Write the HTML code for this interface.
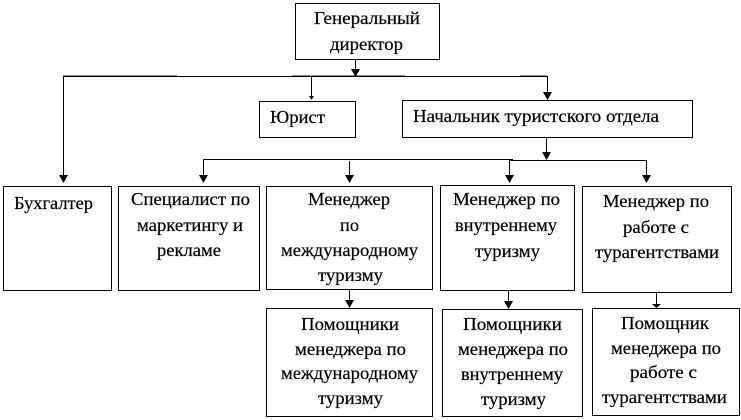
<!DOCTYPE html>
<html><head><meta charset="utf-8"><style>
html,body{margin:0;padding:0;background:#fff}
svg{display:block}
text{font-family:"Liberation Serif","Noto Serif CJK SC",serif;font-size:18px;fill:#000;stroke:#000;stroke-width:.22px}
rect{fill:#fff;stroke:#000;stroke-width:1}
line{stroke:#000;stroke-width:1}
line.g{stroke:#8a8a8a}
polygon{fill:#000}
</style></head><body>
<svg xmlns="http://www.w3.org/2000/svg" width="741" height="420" viewBox="0 0 741 420" shape-rendering="crispEdges">
<g>
<line x1="63" y1="76.5" x2="547" y2="76.5"/>
<line class="g" x1="63" y1="75.5" x2="120" y2="75.5"/>
<line class="g" x1="120" y1="75.5" x2="177" y2="75.5"/>
<line class="g" x1="292" y1="75.5" x2="405" y2="75.5"/>
<line class="g" x1="520" y1="75.5" x2="547" y2="75.5"/>
<line x1="355.5" y1="59" x2="355.5" y2="70"/>
<polygon points="351,69 360,69 355.5,77" shape-rendering="auto"/>
<line x1="63.5" y1="76" x2="63.5" y2="176"/>
<polygon points="59,175 68,175 63.5,183" shape-rendering="auto"/>
<line x1="311.5" y1="76" x2="311.5" y2="97"/>
<polygon points="309,96 314,96 311.5,100" shape-rendering="auto"/>
<line x1="547.5" y1="76" x2="547.5" y2="93"/>
<polygon points="543,92 552,92 547.5,100" shape-rendering="auto"/>
<line x1="546.5" y1="137" x2="546.5" y2="153"/>
<polygon points="542,152 551,152 546.5,160" shape-rendering="auto"/>
<line x1="203" y1="159.5" x2="513" y2="159.5"/>
<line x1="509" y1="160.5" x2="647" y2="160.5"/>
<line x1="203.5" y1="160" x2="203.5" y2="176"/>
<polygon points="199,175 208,175 203.5,183" shape-rendering="auto"/>
<line x1="349.5" y1="161" x2="349.5" y2="176"/>
<polygon points="345,175 354,175 349.5,183" shape-rendering="auto"/>
<line x1="509.5" y1="160" x2="509.5" y2="176"/>
<polygon points="505,175 514,175 509.5,183" shape-rendering="auto"/>
<line x1="646.5" y1="160" x2="646.5" y2="176"/>
<polygon points="642,175 651,175 646.5,183" shape-rendering="auto"/>
<line x1="349.5" y1="289" x2="349.5" y2="301"/>
<polygon points="345,300 354,300 349.5,308" shape-rendering="auto"/>
<line x1="508.5" y1="290" x2="508.5" y2="302"/>
<polygon points="504,301 513,301 508.5,309" shape-rendering="auto"/>
<line x1="656.5" y1="292" x2="656.5" y2="305"/>
<polygon points="652,304 661,304 656.5,308" shape-rendering="auto"/>
</g>
<rect x="295.5" y="3.5" width="144" height="56"/>
<rect x="259.5" y="101.5" width="96" height="36"/>
<rect x="402.5" y="100.5" width="290" height="37"/>
<rect x="3.5" y="186.5" width="108" height="104"/>
<rect x="118.5" y="186.5" width="141" height="104"/>
<rect x="266.5" y="186.5" width="166" height="103"/>
<rect x="440.5" y="185.5" width="134" height="105"/>
<rect x="582.5" y="186.5" width="149" height="106"/>
<rect x="266.5" y="308.5" width="166" height="108"/>
<rect x="442.5" y="309.5" width="140" height="107"/>
<rect x="592.5" y="308.5" width="147" height="107"/>
<g>
<text x="314" y="24" textLength="106" lengthAdjust="spacingAndGlyphs">Генеральный</text>
<text x="330" y="50" textLength="73" lengthAdjust="spacingAndGlyphs">директор</text>
<text x="270" y="123" textLength="55" lengthAdjust="spacingAndGlyphs">Юрист</text>
<text x="413" y="122" textLength="246" lengthAdjust="spacingAndGlyphs">Начальник туристского отдела</text>
<text x="14" y="209" textLength="79" lengthAdjust="spacingAndGlyphs">Бухгалтер</text>
<text x="131" y="205" textLength="119" lengthAdjust="spacingAndGlyphs">Специалист по</text>
<text x="137" y="231" textLength="106" lengthAdjust="spacingAndGlyphs">маркетингу и</text>
<text x="157" y="256" textLength="64" lengthAdjust="spacingAndGlyphs">рекламе</text>
<text x="308" y="205" textLength="82" lengthAdjust="spacingAndGlyphs">Менеджер</text>
<text x="340" y="231" textLength="19" lengthAdjust="spacingAndGlyphs">по</text>
<text x="281" y="256" textLength="137" lengthAdjust="spacingAndGlyphs">международному</text>
<text x="318" y="281" textLength="65" lengthAdjust="spacingAndGlyphs">туризму</text>
<text x="453" y="205" textLength="107" lengthAdjust="spacingAndGlyphs">Менеджер по</text>
<text x="455" y="231" textLength="102" lengthAdjust="spacingAndGlyphs">внутреннему</text>
<text x="475" y="257" textLength="65" lengthAdjust="spacingAndGlyphs">туризму</text>
<text x="603" y="207" textLength="106" lengthAdjust="spacingAndGlyphs">Менеджер по</text>
<text x="623" y="233" textLength="66" lengthAdjust="spacingAndGlyphs">работе с</text>
<text x="595" y="258" textLength="124" lengthAdjust="spacingAndGlyphs">турагентствами</text>
<text x="301" y="330" textLength="98" lengthAdjust="spacingAndGlyphs">Помощники</text>
<text x="295" y="355" textLength="111" lengthAdjust="spacingAndGlyphs">менеджера по</text>
<text x="281" y="379" textLength="137" lengthAdjust="spacingAndGlyphs">международному</text>
<text x="318" y="404" textLength="65" lengthAdjust="spacingAndGlyphs">туризму</text>
<text x="463" y="330" textLength="99" lengthAdjust="spacingAndGlyphs">Помощники</text>
<text x="458" y="355" textLength="110" lengthAdjust="spacingAndGlyphs">менеджера по</text>
<text x="461" y="380" textLength="102" lengthAdjust="spacingAndGlyphs">внутреннему</text>
<text x="481" y="405" textLength="65" lengthAdjust="spacingAndGlyphs">туризму</text>
<text x="621" y="329" textLength="88" lengthAdjust="spacingAndGlyphs">Помощник</text>
<text x="611" y="354" textLength="110" lengthAdjust="spacingAndGlyphs">менеджера по</text>
<text x="630" y="378" textLength="67" lengthAdjust="spacingAndGlyphs">работе с</text>
<text x="602" y="403" textLength="125" lengthAdjust="spacingAndGlyphs">турагентствами</text>
</g>
</svg>
</body></html>
